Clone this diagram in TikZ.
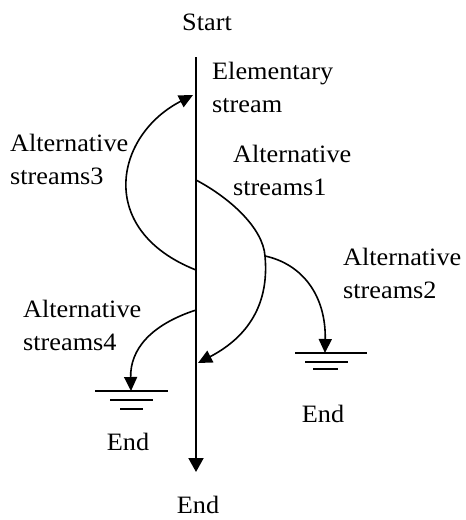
\documentclass[tikz,border=0pt]{standalone}
\usepackage{fontspec}
\setmainfont{Liberation Serif}[FakeStretch=1.05]
\usetikzlibrary{arrows.meta}
\begin{document}
\begin{tikzpicture}[x=1pt,y=-1pt,
  lbl/.style={inner sep=0pt,align=left,anchor=base west,
    font=\fontsize{25}{33}\selectfont},
  endlbl/.style={inner sep=0pt,anchor=base,font=\fontsize{25}{33}\selectfont},
  mainflow/.style={line width=2pt,-{Triangle[length=14pt,width=15pt]}},
  flow/.style={line width=1.6pt,-{Triangle[length=14pt,width=13pt]}},
  branch/.style={line width=1.6pt},
  earth/.style={line width=1.6pt}]
\useasboundingbox (0,0) rectangle (466,520);

% main stream
\coordinate (top) at (196,57);
\coordinate (bottom) at (196,472);
\draw[mainflow] (top) -- (bottom);

% points where the alternative streams leave / rejoin
\coordinate (out1) at (196,180);
\coordinate (out3) at (196,270);
\coordinate (out4) at (196,310);
\coordinate (in1) at (198,363);
\coordinate (in3) at (193,95);
\coordinate (fork) at (265,256);
\coordinate (g2) at (325,353);
\coordinate (g4) at (131,391);

% alternative stream 1 (rejoins lower down)
\draw[branch] (out1) .. controls (230,198) and (263,228) .. (fork);
\draw[flow] (fork) .. controls (270,310) and (242,340) .. (in1);
% alternative stream 2 (ends)
\draw[flow] (fork) .. controls (302,264) and (326,295) .. (g2);
% alternative stream 3 (jumps back up)
\draw[flow] (out3) .. controls (95,230) and (115,135) .. (in3);
% alternative stream 4 (ends)
\draw[flow] (out4) .. controls (150,325) and (130,350) .. (g4);

% terminations
\draw[earth] (295,353) -- (367,353) (305,362) -- (348,362) (313,369) -- (338,369);
\draw[earth] (95,391) -- (168,391) (110,400) -- (153,400) (120,409) -- (143,409);

% labels (anchored at the baseline of their last line)
\node[endlbl] (start) at (207,30) {Start};
\node[endlbl] (end) at (198,513) {End};
\node[endlbl] (end2) at (323,422) {End};
\node[endlbl] (end4) at (128,450) {End};
\node[lbl] (elem) at (212,112) {Elementary\\stream};
\node[lbl] (alt1) at (233,195) {Alternative\\streams1};
\node[lbl] (alt2) at (343,298) {Alternative\\streams2};
\node[lbl] (alt3) at (10,184) {Alternative\\streams3};
\node[lbl] (alt4) at (23,350) {Alternative\\streams4};
\end{tikzpicture}
\end{document}
